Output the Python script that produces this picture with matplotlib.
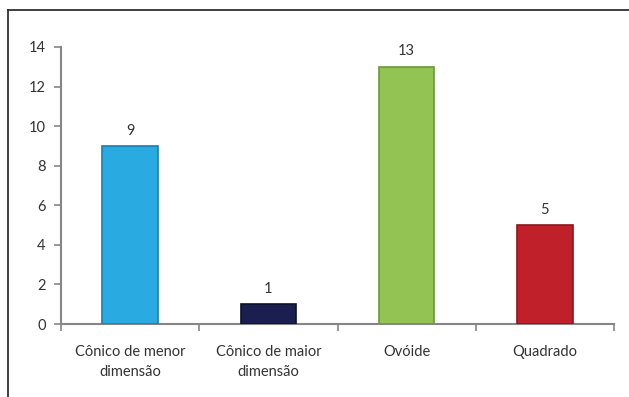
import matplotlib.pyplot as plt
from matplotlib.lines import Line2D

categories = ["Cônico de menor\ndimensão", "Cônico de maior\ndimensão", "Ovóide", "Quadrado"]
values = [9, 1, 13, 5]
colors = ["#29abe2", "#1b1f4f", "#92c353", "#c0202a"]
edges = ["#1a7fae", "#0e1030", "#6a9a38", "#8c161d"]

plt.rcParams['font.family'] = ['Lato', 'DejaVu Sans']

fig = plt.figure(figsize=(6.29, 3.97), dpi=100)
ax = fig.add_axes([61 / 629, 1 - 324 / 397, (614 - 61) / 629, (324 - 47) / 397])

x = list(range(len(categories)))
bars = ax.bar(x, values, width=0.4, color=colors, edgecolor=edges, linewidth=1.2, zorder=3)

# value labels above each bar
for xi, v in zip(x, values):
    ax.annotate(str(v), (xi, v), xytext=(0, 6), textcoords="offset points",
                ha="center", va="bottom", fontsize=10.5, color="#333333")

ax.set_xlim(-0.5, len(categories) - 0.5)
ax.set_ylim(0, 14)
ax.set_yticks(range(0, 15, 2))

# category separators as major ticks, names as minor ticks
ax.set_xticks([i + 0.5 for i in range(-1, len(categories))])
ax.set_xticklabels([])
ax.set_xticks(x, minor=True)
ax.set_xticklabels(categories, minor=True, linespacing=1.55)
ax.tick_params(axis="x", which="major", length=5, width=1.2, color="#868686", direction="out")
ax.tick_params(axis="x", which="minor", length=0, pad=15, labelsize=10.5, labelcolor="#333333")
ax.tick_params(axis="y", length=5, width=1.2, color="#868686", direction="out",
               labelsize=10.5, labelcolor="#333333", pad=6)

for side in ["top", "right"]:
    ax.spines[side].set_visible(False)
for side in ["left", "bottom"]:
    ax.spines[side].set_color("#868686")
    ax.spines[side].set_linewidth(1.5)

# chart area border (top and left edges)
fig.add_artist(Line2D([8 / 629, 1.0], [1 - 10 / 397, 1 - 10 / 397], color="#303030", lw=1.3,
                      transform=fig.transFigure))
fig.add_artist(Line2D([8 / 629, 8 / 629], [0.0, 1 - 10 / 397], color="#303030", lw=1.3,
                      transform=fig.transFigure))

fig.savefig("out.png", dpi=100)
